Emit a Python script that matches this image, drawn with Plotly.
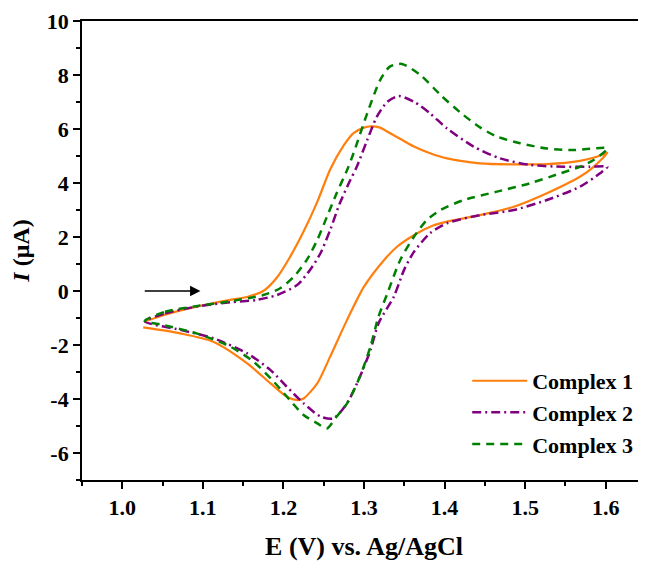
import plotly.graph_objects as go

# Complex 1 (orange, solid)
E1 = [1.028, 1.053, 1.092, 1.134, 1.155, 1.175, 1.192, 1.208, 1.225, 1.242, 1.258, 1.275, 1.287, 1.300,
      1.308, 1.320, 1.332, 1.347, 1.362, 1.382, 1.403, 1.444, 1.486, 1.527, 1.568, 1.590, 1.602,
      1.585, 1.568, 1.527, 1.486, 1.444, 1.403, 1.385, 1.366, 1.341, 1.325, 1.300, 1.279, 1.258,
      1.242, 1.225, 1.217, 1.204, 1.184, 1.155, 1.113, 1.072, 1.026]
I1 = [-1.13, -0.88, -0.58, -0.33, -0.22, 0.00, 0.50, 1.25, 2.20, 3.30, 4.50, 5.40, 5.85, 6.05,
      6.10, 6.05, 5.85, 5.60, 5.35, 5.10, 4.91, 4.73, 4.69, 4.70, 4.82, 4.98, 5.12,
      4.60, 4.23, 3.62, 3.12, 2.81, 2.57, 2.42, 2.14, 1.64, 1.15, 0.16, -1.07, -2.43,
      -3.42, -3.98, -4.04, -3.91, -3.42, -2.68, -1.88, -1.57, -1.35]

# Complex 2 (purple, dash-dot)
E2 = [1.028, 1.053, 1.092, 1.134, 1.167, 1.192, 1.217, 1.233, 1.246, 1.258, 1.270, 1.283, 1.291,
      1.304, 1.316, 1.329, 1.343, 1.362, 1.382, 1.403, 1.436, 1.469, 1.506, 1.548, 1.580, 1.602,
      1.593, 1.568, 1.527, 1.486, 1.444, 1.403, 1.382, 1.362, 1.350, 1.337, 1.318, 1.308, 1.295,
      1.279, 1.262, 1.246, 1.225, 1.204, 1.184, 1.155, 1.113, 1.072, 1.028]
I2 = [-1.13, -0.83, -0.58, -0.42, -0.33, -0.15, 0.22, 0.78, 1.40, 2.26, 3.25, 4.11, 4.60,
      5.59, 6.46, 7.01, 7.22, 7.01, 6.58, 6.02, 5.35, 4.91, 4.67, 4.60, 4.60, 4.60,
      4.36, 3.86, 3.37, 3.00, 2.81, 2.51, 2.14, 1.45, 0.80, -0.21, -1.20, -2.19, -3.17,
      -4.16, -4.72, -4.65, -4.16, -3.54, -2.93, -2.31, -1.75, -1.44, -1.13]

# Complex 3 (green, dashed)
E3 = [1.028, 1.053, 1.092, 1.134, 1.175, 1.196, 1.213, 1.229, 1.242, 1.254, 1.266, 1.279, 1.287,
      1.304, 1.320, 1.332, 1.347, 1.370, 1.395, 1.420, 1.444, 1.465, 1.494, 1.527, 1.560, 1.602,
      1.585, 1.568, 1.544, 1.506, 1.465, 1.424, 1.395, 1.378, 1.362, 1.345, 1.329, 1.318, 1.308,
      1.295, 1.279, 1.266, 1.254, 1.242, 1.225, 1.208, 1.188, 1.163, 1.134, 1.092, 1.051, 1.028]
I3 = [-1.11, -0.77, -0.56, -0.38, -0.15, 0.10, 0.53, 1.15, 1.89, 2.75, 3.62, 4.48, 5.10,
      6.58, 7.81, 8.31, 8.41, 8.00, 7.26, 6.60, 6.06, 5.72, 5.47, 5.28, 5.22, 5.28,
      4.85, 4.60, 4.36, 3.99, 3.68, 3.37, 3.00, 2.63, 2.01, 1.15, -0.09, -0.95, -2.06,
      -3.17, -4.16, -4.65, -5.09, -4.90, -4.59, -4.04, -3.36, -2.62, -2.06, -1.57, -1.26, -1.11]

names = ["Complex 1", "Complex 2", "Complex 3"]
colors = ["#FF7F0E", "#800080", "#008000"]

y_tickvals = [-6, -4, -2, 0, 2, 4, 6, 8, 10]
y_ticktext = ["-6", "-4", "-2", "0", "2", "4", "6", "8", "10"]

FONT = "Liberation Serif, Times New Roman, serif"

fig = go.Figure()
fig.add_trace(go.Scatter(x=E1, y=I1, mode="lines", name=names[0],
                         line=dict(color=colors[0], width=2.2, shape="spline", smoothing=0.7)))
fig.add_trace(go.Scatter(x=E2, y=I2, mode="lines", name=names[1],
                         line=dict(color=colors[1], width=2.5, dash="9px,4px,2px,4px",
                                   shape="spline", smoothing=0.7)))
fig.add_trace(go.Scatter(x=E3, y=I3, mode="lines", name=names[2],
                         line=dict(color=colors[2], width=2.5, dash="8px,6px",
                                   shape="spline", smoothing=0.7)))

# scan direction arrow
fig.add_annotation(x=1.097, y=0, ax=1.026, ay=0, xref="x", yref="y", axref="x", ayref="y",
                   text="", showarrow=True, arrowhead=2, arrowsize=1.3, arrowwidth=1.6,
                   arrowcolor="black")

fig.update_layout(
    width=638, height=556,
    margin=dict(l=74, r=0, t=13, b=84, autoexpand=False),
    paper_bgcolor="white", plot_bgcolor="white",
    font=dict(family=FONT, size=20, color="black"),
    showlegend=True,
    legend=dict(x=0.683, y=0.2615, xanchor="left", yanchor="top",
                font=dict(family=FONT, size=22, color="black", weight="bold"),
                bgcolor="rgba(0,0,0,0)", itemwidth=55, tracegroupgap=0),
)
fig.update_xaxes(
    range=[0.95, 1.65], dtick=0.1, tick0=1.0, tickformat=".1f", automargin=False,
    showline=True, linecolor="black", linewidth=1.8, mirror=True,
    ticks="outside", ticklen=7, tickwidth=1.8, tickcolor="black",
    minor=dict(dtick=0.05, tick0=1.0, ticks="outside", ticklen=4, tickwidth=1.5, tickcolor="black"),
    showgrid=False, zeroline=False,
    tickfont=dict(family=FONT, size=22, color="black", weight="bold"),
    title=dict(text="E (V) vs. Ag/AgCl", font=dict(family=FONT, size=26, color="black", weight="bold"),
               standoff=18),
)
fig.update_yaxes(
    range=[-7, 10], tickvals=y_tickvals, ticktext=y_ticktext, automargin=False,
    showline=True, linecolor="black", linewidth=1.8, mirror=False,
    ticks="outside", ticklen=7, tickwidth=1.8, tickcolor="black",
    minor=dict(dtick=1, tick0=0, ticks="outside", ticklen=4, tickwidth=1.5, tickcolor="black"),
    showgrid=False, zeroline=False,
    tickfont=dict(family=FONT, size=22, color="black", weight="bold"),
    title=dict(text="<i>I</i> (μA)", font=dict(family=FONT, size=24, color="black", weight="bold"),
               standoff=14),
)

fig.write_html("out.html")
